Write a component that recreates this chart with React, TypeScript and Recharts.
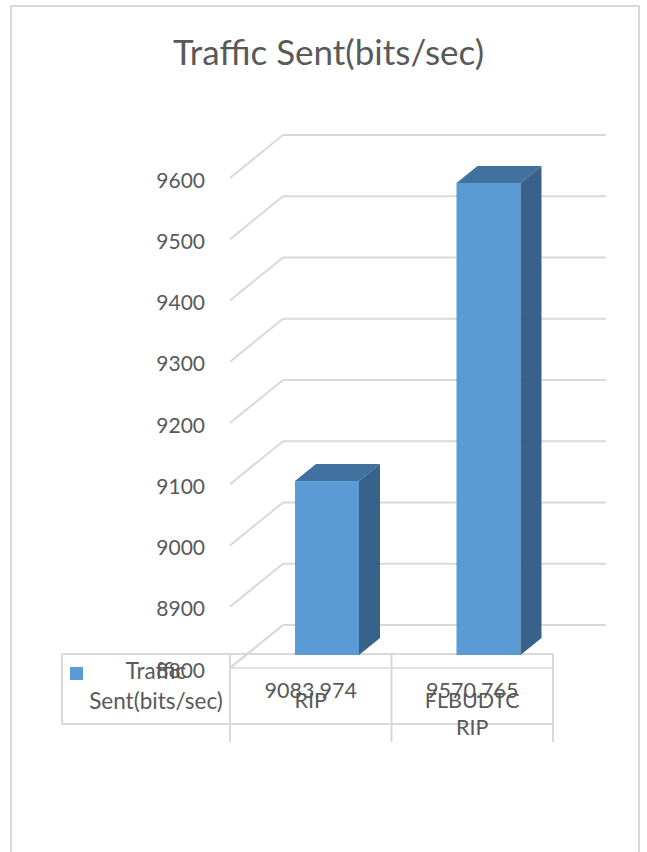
import React from 'react';
import { BarChart, Bar, XAxis, YAxis, CartesianGrid, Customized } from 'recharts';

const categories = ['RIP', 'FLBUDTC RIP'];
const trafficSent = [9083.974, 9570.765];
const seriesName = 'Traffic Sent(bits/sec)';
const yTicks = [8800, 8900, 9000, 9100, 9200, 9300, 9400, 9500, 9600];
const title = 'Traffic Sent(bits/sec)';

const data = categories.map((name, i) => ({ name, value: trafficSent[i] }));

// layout (back wall of the 3d plot)
const W = 647;
const H = 852;
const PLOT_LEFT = 283;
const PLOT_RIGHT = 606;
const PLOT_TOP = 135;
const PLOT_BOTTOM = 625;
const DEPTH_X = -53;
const DEPTH_Y = 43;
const TABLE_LEFT = 62;
const TABLE_TOP = 654;
const TABLE_ROW_BOTTOM = 724;
const TABLE_LINES_BOTTOM = 742;

const FONT = 'Lato, "Open Sans", sans-serif';
const TEXT = '#595959';
const GRID = '#d9d9d9';

const Box3D = (props: any) => {
  const { x, y, width, height } = props;
  const fx = x - 37;
  const fy = y + 30;
  const sx = 21;
  const sy = -17;
  return (
    <g>
      <rect x={fx} y={fy} width={width} height={height} fill="#5b9bd5" />
      <polygon
        points={`${fx},${fy} ${fx + width},${fy} ${fx + width + sx},${fy + sy} ${fx + sx},${fy + sy}`}
        fill="#41729f"
      />
      <polygon
        points={`${fx + width},${fy} ${fx + width + sx},${fy + sy} ${fx + width + sx},${fy + height + sy} ${fx + width},${fy + height}`}
        fill="#38628a"
      />
    </g>
  );
};

const YTick = (props: any) => {
  const { y, payload } = props;
  return (
    <g>
      <line x1={PLOT_LEFT} y1={y} x2={PLOT_LEFT + DEPTH_X} y2={y + DEPTH_Y} stroke={GRID} strokeWidth={2} />
      <text x={205} y={y + DEPTH_Y + 1} textAnchor="end" dominantBaseline="central" fontFamily={FONT} fontSize={21} fill={TEXT}>
        {payload.value}
      </text>
    </g>
  );
};

const XTick = (props: any) => {
  const { x, payload, index } = props;
  const band = (PLOT_RIGHT - PLOT_LEFT) / categories.length;
  const cx = x + DEPTH_X;
  const lines = String(payload.value).split(' ');
  return (
    <g fontFamily={FONT} fontSize={21.5} fill={TEXT} textAnchor="middle">
      <line x1={cx + band / 2} y1={TABLE_TOP} x2={cx + band / 2} y2={TABLE_LINES_BOTTOM} stroke={GRID} strokeWidth={2} />
      <text x={cx} y={698}>{trafficSent[index].toFixed(3)}</text>
      {lines.map((l, i) => (
        <text key={i} x={cx} y={708 + i * 27}>{l}</text>
      ))}
    </g>
  );
};

const Extras = () => {
  const [first, ...rest] = seriesName.split(' ');
  const floorLeft = PLOT_LEFT + DEPTH_X;
  const floorRight = PLOT_RIGHT + DEPTH_X;
  return (
    <g fontFamily={FONT} fill={TEXT}>
      <text x={W / 2 + 5} y={65} textAnchor="middle" fontSize={35}>{title}</text>
      <rect x={TABLE_LEFT} y={TABLE_TOP} width={floorRight - TABLE_LEFT} height={TABLE_ROW_BOTTOM - TABLE_TOP} fill="#fff" />
      <line x1={TABLE_LEFT} y1={TABLE_TOP} x2={floorRight} y2={TABLE_TOP} stroke={GRID} strokeWidth={2} />
      <line x1={floorLeft} y1={PLOT_BOTTOM + DEPTH_Y} x2={floorRight} y2={PLOT_BOTTOM + DEPTH_Y} stroke={GRID} strokeWidth={1.5} />
      <line x1={PLOT_LEFT} y1={PLOT_BOTTOM} x2={floorLeft} y2={PLOT_BOTTOM + DEPTH_Y} stroke={GRID} strokeWidth={2} />
      <line x1={TABLE_LEFT} y1={TABLE_ROW_BOTTOM} x2={floorRight} y2={TABLE_ROW_BOTTOM} stroke={GRID} strokeWidth={2} />
      <line x1={TABLE_LEFT} y1={TABLE_TOP} x2={TABLE_LEFT} y2={TABLE_ROW_BOTTOM} stroke={GRID} strokeWidth={2} />
      <line x1={floorLeft} y1={TABLE_TOP} x2={floorLeft} y2={TABLE_LINES_BOTTOM} stroke={GRID} strokeWidth={2} />
      <rect x={70} y={667} width={13} height={13} fill="#5b9bd5" />
      <text x={156} y={679} textAnchor="middle" fontSize={22.5}>{first}</text>
      <text x={156} y={709} textAnchor="middle" fontSize={22.5}>{rest.join(' ')}</text>
    </g>
  );
};

export default function App() {
  return (
    <div style={{ position: 'absolute', left: 0, top: 0, width: W, height: H, overflow: 'hidden', background: '#fff' }}>
      <div
        style={{
          position: 'absolute',
          left: 10,
          top: 5,
          width: 630,
          height: H - 5,
          border: `2px solid ${GRID}`,
          borderBottom: 'none',
          boxSizing: 'border-box',
        }}
      />
      <div style={{ position: 'absolute', left: 0, top: 0 }}>
        <BarChart
          width={W}
          height={H}
          data={data}
          margin={{ top: PLOT_TOP, right: W - PLOT_RIGHT, left: PLOT_LEFT - 80, bottom: H - PLOT_BOTTOM - 30 }}
          barCategoryGap={0}
        >
          <CartesianGrid vertical={false} stroke={GRID} strokeWidth={2} />
          <XAxis dataKey="name" height={30} axisLine={false} tickLine={false} tick={<XTick />} interval={0} />
          <YAxis
            width={80}
            domain={[8800, 9600]}
            ticks={yTicks}
            axisLine={false}
            tickLine={false}
            tick={<YTick />}
          />
          <Bar dataKey="value" barSize={64} shape={<Box3D />} isAnimationActive={false} />
          <Customized component={<Extras />} />
        </BarChart>
      </div>
    </div>
  );
}
